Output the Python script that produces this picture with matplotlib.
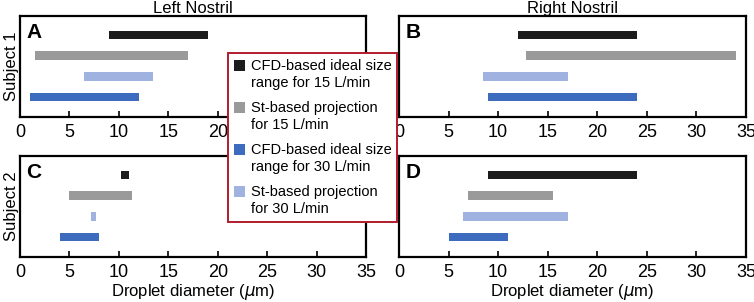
import matplotlib.pyplot as plt
from matplotlib.patches import Patch, Rectangle
from matplotlib.legend_handler import HandlerPatch

plt.rcParams['font.family'] = ['Liberation Sans', 'DejaVu Sans']

# legend labels and bar colours
series = ['CFD-based ideal size\nrange for 15 L/min',
          'St-based projection\nfor 15 L/min',
          'CFD-based ideal size\nrange for 30 L/min',
          'St-based projection\nfor 30 L/min']
colors = ['#1c1c1c', '#9a9a9a', '#3d6cbf', '#a0b2e0']

# each panel: (start, end) in um for [CFD15, St15, CFD30, St30]
A_ranges = [(9.0, 19.0), (1.5, 17.0), (1.0, 12.0), (6.5, 13.5)]
B_ranges = [(12.0, 24.0), (12.8, 34.0), (9.0, 24.0), (8.5, 17.0)]
C_ranges = [(10.2, 11.0), (5.0, 11.3), (4.0, 8.0), (7.2, 7.7)]
D_ranges = [(9.0, 24.0), (7.0, 15.5), (5.0, 11.0), (6.5, 17.0)]

# vertical slot for each series (top = 4)
ypos = [4, 3, 1, 2]
xticks = [0, 5, 10, 15, 20, 25, 30, 35]

fig = plt.figure(figsize=(7.54, 3.02), dpi=100)
W, H = 754, 302

def make_ax(l, t, r, b):
    return fig.add_axes([l / W, 1 - b / H, (r - l) / W, (b - t) / H])

axA = make_ax(20, 16, 366, 117)
axB = make_ax(399, 16, 746, 117)
axC = make_ax(20, 156, 366, 257)
axD = make_ax(399, 156, 746, 257)

panels = [(axA, A_ranges, 'A'), (axB, B_ranges, 'B'),
          (axC, C_ranges, 'C'), (axD, D_ranges, 'D')]

for ax, ranges, letter in panels:
    for (s, e), y, c in zip(ranges, ypos, colors):
        ax.barh(y, e - s, left=s, height=0.42, color=c)
    ax.set_xlim(0, 35)
    ax.set_ylim(0.03, 4.92)
    ax.set_yticks([])
    ax.set_xticks(xticks)
    ax.tick_params(axis='x', direction='in', length=4, width=1.2,
                   labelsize=13, pad=5)
    for sp in ax.spines.values():
        sp.set_linewidth(1.6)
    ax.text(0.018, 0.93, letter, transform=ax.transAxes, fontsize=15,
            fontweight='bold', va='top', ha='left')

axA.set_title('Left Nostril', fontsize=12, pad=1)
axB.set_title('Right Nostril', fontsize=12, pad=1)
axA.set_ylabel('Subject 1', fontsize=12, labelpad=1)
axC.set_ylabel('Subject 2', fontsize=12, labelpad=1)
axC.set_xlabel(r'Droplet diameter ($\mu$m)', fontsize=12, labelpad=1)
axD.set_xlabel(r'Droplet diameter ($\mu$m)', fontsize=12, labelpad=1)


# square legend markers aligned with the first text line
def top_square(legend, orig_handle, xdescent, ydescent, width, height, fontsize):
    return Rectangle((-xdescent, -ydescent + 0.65 * fontsize), width, height)


handles = [Patch(facecolor=c, edgecolor='none') for c in colors]
leg = fig.legend(handles, series, loc='upper left',
                 bbox_to_anchor=(228 / W, 1 - 53 / H), fontsize=10.5,
                 handlelength=0.75, handleheight=0.75, handletextpad=0.4,
                 labelspacing=0.75, borderpad=0.4, borderaxespad=0,
                 fancybox=False, framealpha=1, edgecolor='#b01c2c',
                 handler_map={Patch: HandlerPatch(patch_func=top_square)})
leg.get_frame().set_linewidth(1.4)
leg.set_zorder(10)
for t in leg.get_texts():
    t.set_linespacing(1.28)

fig.savefig('out.png', dpi=100)
